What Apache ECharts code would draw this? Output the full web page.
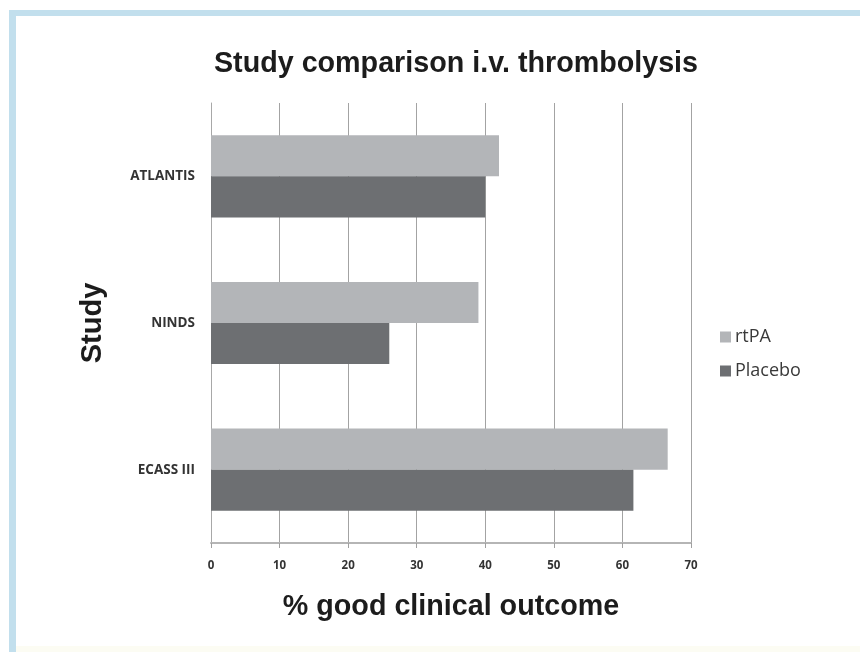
<!DOCTYPE html>
<html>
<head>
<meta charset="utf-8">
<script src="https://cdn.jsdelivr.net/npm/echarts@6/dist/echarts.min.js"></script>
<style>
html,body{margin:0;padding:0;background:#ffffff;}
#chart{width:860px;height:652px;}
</style>
</head>
<body>
<div id="chart"></div>
<script>
const categories = ['ATLANTIS', 'NINDS', 'ECASS III'];
const rtPA = [42, 39, 66.6];
const placebo = [40, 26, 61.6];
const seriesNames = ['rtPA', 'Placebo'];
const xTicks = { min: 0, max: 70, interval: 10 };
const titleText = 'Study comparison i.v. thrombolysis';
const xName = '% good clinical outcome';
const yName = 'Study';

const chart = echarts.init(document.getElementById('chart'), null, { renderer: 'canvas' });
chart.setOption({
  backgroundColor: '#ffffff',
  animation: false,
  graphic: [
    { type: 'rect', z: -10, shape: { x: 9, y: 10, width: 851, height: 6 }, style: { fill: '#c2dfed' } },
    { type: 'rect', z: -10, shape: { x: 9, y: 10, width: 7, height: 642 }, style: { fill: '#c2dfed' } },
    { type: 'rect', z: -10, shape: { x: 16, y: 646, width: 844, height: 6 }, style: { fill: '#fcfcf3' } }
  ],
  title: {
    text: titleText,
    left: 451,
    textAlign: 'center',
    top: 45,
    textStyle: { fontFamily: 'Liberation Sans', fontWeight: 'bold', fontSize: 28.7, color: '#1c1c1c' }
  },
  legend: {
    orient: 'vertical',
    left: 720,
    top: 328,
    padding: 0,
    itemWidth: 11,
    itemHeight: 11,
    itemGap: 16,
    icon: 'rect',
    data: seriesNames,
    textStyle: { fontFamily: 'Open Sans', fontSize: 18, color: '#3a3a3a', lineHeight: 18, padding: [0, 0, 0, -1] }
  },
  grid: { left: 211, top: 103, width: 480, height: 440, containLabel: false },
  xAxis: {
    type: 'value',
    min: xTicks.min,
    max: xTicks.max,
    interval: xTicks.interval,
    name: xName,
    nameLocation: 'middle',
    nameGap: 50,
    nameTextStyle: { fontFamily: 'Liberation Sans', fontWeight: 'bold', fontSize: 28.7, color: '#1c1c1c' },
    axisLine: { show: true, lineStyle: { color: '#b5b5b5', width: 2 } },
    axisTick: { show: true, length: 5, lineStyle: { color: '#a0a0a0' } },
    axisLabel: { fontFamily: 'Open Sans', fontWeight: 'bold', fontSize: 11.5, color: '#333333', margin: 17 },
    splitLine: { show: true, lineStyle: { color: '#a3a3a3', width: 1 } }
  },
  yAxis: {
    type: 'category',
    inverse: true,
    data: categories,
    name: yName,
    nameLocation: 'middle',
    nameRotate: 90,
    nameGap: 104,
    nameTextStyle: { fontFamily: 'Liberation Sans', fontWeight: 'bold', fontSize: 29, color: '#1c1c1c' },
    axisLine: { show: true, lineStyle: { color: '#a8a8a8', width: 1 } },
    axisTick: { show: false },
    axisLabel: { fontFamily: 'Open Sans', fontWeight: 'bold', fontSize: 13.5, color: '#333333', margin: 16 }
  },
  series: [
    { name: seriesNames[0], type: 'bar', data: rtPA, barGap: '0%', barCategoryGap: '44%', itemStyle: { color: '#b3b5b8' } },
    { name: seriesNames[1], type: 'bar', data: placebo, barGap: '0%', barCategoryGap: '44%', itemStyle: { color: '#6d6f72' } }
  ]
});
</script>
</body>
</html>
